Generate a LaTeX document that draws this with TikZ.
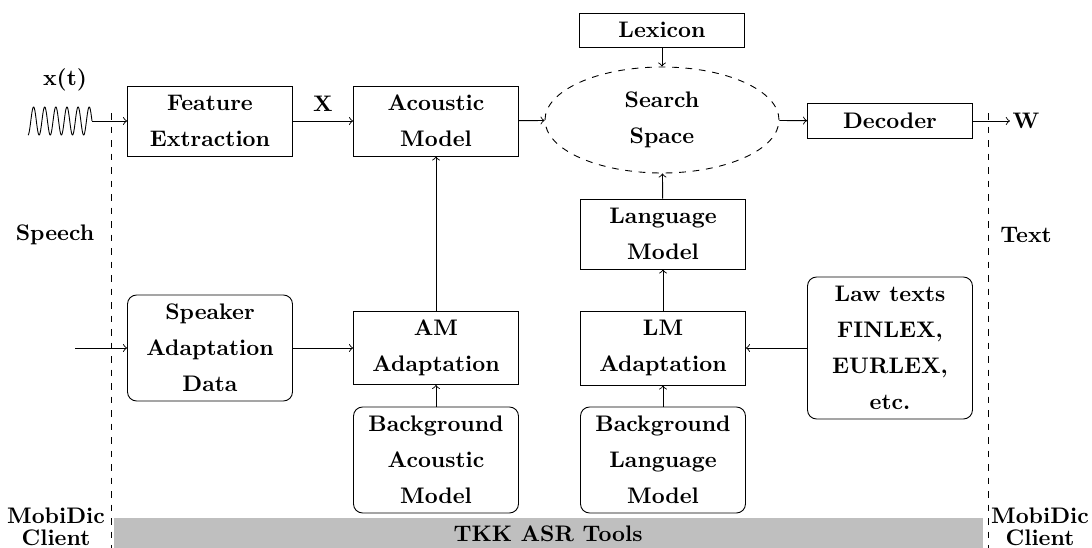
\documentclass[tikz,border=0pt]{standalone}
\usetikzlibrary{shapes.geometric}
\begin{document}
\begin{tikzpicture}[x=0.4444pt,y=-0.4444pt,
  every node/.style={font=\bfseries\fontsize{10}{16}\selectfont, align=center, inner sep=2pt},
  block/.style={draw, minimum width=73.3pt},
  rblock/.style={draw, rounded corners=4pt, minimum width=73.3pt},
  lbl/.style={inner sep=1pt},
  side/.style={font=\bfseries\fontsize{10}{10}\selectfont, inner sep=0pt},
  conn/.style={->},
  border/.style={dashed}]
\useasboundingbox (0,0) rectangle (1092,548);

% TKK tools band
\fill[gray!50] (114,518) rectangle (983,548);
\node (tkk) at (548,534) {TKK ASR Tools};

% client / server borders
\draw[border] (111,113) -- (111,548);
\draw[border] (988,113) -- (988,548);

% input speech signal
\draw[domain=0:2070,samples=300,variable=\t] plot ({28+\t/2070*64},{121-14*sin(\t-90)});
\coordinate (wend) at (92,121);
\node[lbl] (xt) at (65,80) {x(t)};

% main recognition chain
\node[block, minimum height=31.1pt] (fe) at (210,121) {Feature\\Extraction};
\node[block, minimum height=31.1pt] (am) at (436,121) {Acoustic\\Model};
\node[draw, dashed, ellipse, minimum width=104pt, minimum height=47.1pt, inner sep=0pt] (ss) at (662,120) {Search\\Space};
\node[block, minimum height=15.1pt] (lex) at (662,30) {Lexicon};
\node[block, minimum height=15.6pt] (dec) at (890,121) {Decoder};
\node[lbl] (w) at (1026,121) {W};
\node[lbl] (xlab) at (323,104) {X};

% adaptation part
\node[rblock, minimum height=47.1pt] (spk) at (210,348) {Speaker\\Adaptation\\Data};
\coordinate (spkin) at (75,348);
\node[block, minimum height=32.4pt] (ama) at (436,348) {AM\\Adaptation};
\node[rblock, minimum height=47.1pt] (bam) at (436,460) {Background\\Acoustic\\Model};
\node[block, minimum height=31.1pt] (lm) at (663,234) {Language\\Model};
\node[block, minimum height=32.9pt] (lma) at (663,348) {LM\\Adaptation};
\node[rblock, minimum height=47.1pt] (blm) at (663,460) {Background\\Language\\Model};
\node[rblock, minimum height=63.1pt] (law) at (890,348) {Law texts\\FINLEX,\\EURLEX,\\etc.};

% side labels
\node[lbl] (speech) at (55,235) {Speech};
\node[lbl] (text) at (1026,235) {Text};
\node[side] (mcl) at (56,527) {MobiDic\\Client};
\node[side] (mcr) at (1040,527) {MobiDic\\Client};

% connectors
\draw[conn] (wend) -- (fe.west);
\draw[conn] (fe) -- (am);
\draw[conn] (am) -- (ss);
\draw[conn] (ss) -- (dec);
\draw[conn] (dec) -- (w);
\draw[conn] (lex) -- (ss);
\draw[conn] (lm) -- (ss);
\draw[conn] (lma) -- (lm);
\draw[conn] (blm) -- (lma);
\draw[conn] (law) -- (lma);
\draw[conn] (ama) -- (am);
\draw[conn] (bam) -- (ama);
\draw[conn] (spk) -- (ama);
\draw[conn] (spkin) -- (spk);
\end{tikzpicture}
\end{document}
